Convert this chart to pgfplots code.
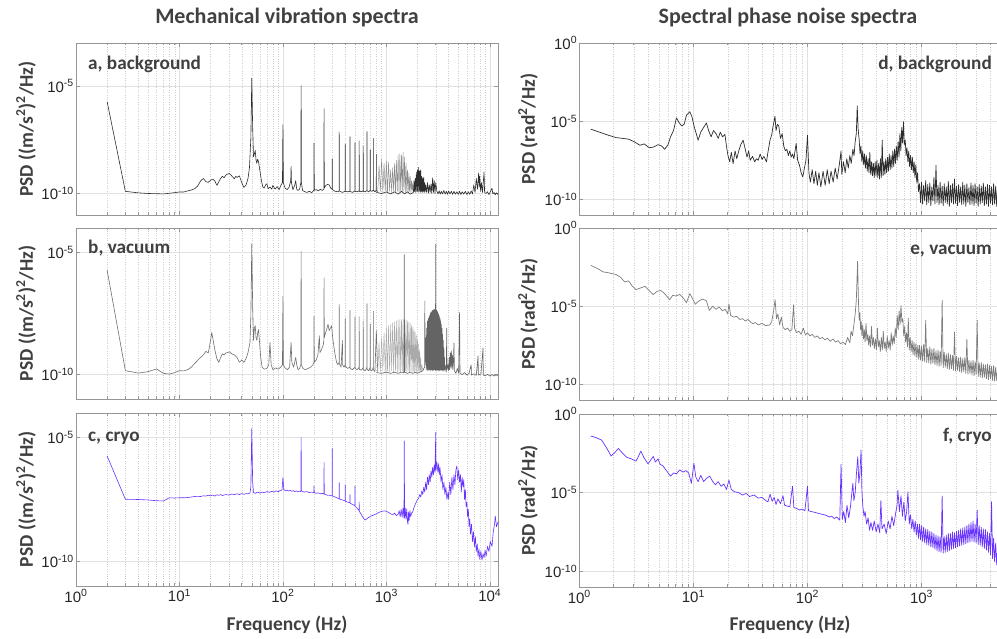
\documentclass[border=0pt]{standalone}
\usepackage{fontspec}
\usepackage{pgfplots}
\pgfplotsset{compat=1.18}
\setmainfont{Carlito}
\newfontfamily\arial{Liberation Sans}
\newcommand\tickfont{\arial\fontsize{15}{15}\selectfont}
\newcommand\labfont{\bfseries\fontsize{19.5}{19.5}\selectfont}
\newcommand\panfont{\bfseries\fontsize{19.2}{19.2}\selectfont}
\newcommand\titlefont{\bfseries\fontsize{22}{22}\selectfont}
\definecolor{axcol}{RGB}{150,150,150}
\definecolor{gridmaj}{RGB}{225,225,225}
\definecolor{gridmin}{RGB}{205,205,205}
\definecolor{labcol}{RGB}{64,64,64}
\definecolor{tickcol}{RGB}{38,38,38}
\definecolor{colA}{RGB}{45,45,45}
\definecolor{colAl}{RGB}{140,140,140}
\definecolor{colB}{RGB}{110,110,110}
\definecolor{colBl}{RGB}{170,170,170}
\definecolor{colBd}{RGB}{100,100,100}
\definecolor{colC}{RGB}{102,51,255}
\definecolor{colD}{RGB}{45,45,45}
\definecolor{colE}{RGB}{125,125,125}
\pgfplotsset{
 /pgfplots/mybase/.style={scale only axis, width=422pt, ymin=-11,
   axis line style={draw=axcol, line width=0.7pt},
   tick style={draw=axcol, line width=0.5pt},
   tick align=inside, major tick length=4pt, minor tick length=2.5pt,
   xmajorgrids, xminorgrids, ymajorgrids,
   major grid style={draw=gridmaj, line width=0.5pt},
   minor grid style={draw=gridmin, line width=0.4pt, dotted},
   xtick={1,10,100,1000,10000},
   yticklabel style={font=\tickfont, text=tickcol, inner xsep=2pt},
   xticklabel style={font=\tickfont, text=tickcol},
   no markers, clip=true,
   every axis plot/.append style={line width=0.6pt, line join=round},
 },
 /pgfplots/myleft/.style={mybase, xmin=1, xmax=12000,
   minor xtick={2,3,4,5,6,7,8,9,20,30,40,50,60,70,80,90,200,300,400,500,600,700,800,900,2000,3000,4000,5000,6000,7000,8000,9000},
   ytick={-10,-5}, yticklabels={10\textsuperscript{-10},10\textsuperscript{-5}}},
 /pgfplots/myright/.style={mybase, xmin=1, xmax=5000, ymax=0,
   minor xtick={2,3,4,5,6,7,8,9,20,30,40,50,60,70,80,90,200,300,400,500,600,700,800,900,2000,3000,4000},
   ytick={-10,-5,0}, yticklabels={10\textsuperscript{-10},10\textsuperscript{-5},10\textsuperscript{0}},
   every axis plot/.append style={line width=0.7pt}},
}
\begin{document}
\begin{tikzpicture}
\path[use as bounding box] (0,0) rectangle (997pt,639pt);
% ---------------- panel a ----------------
\begin{axis}[xmode=log, myleft, xticklabels={}, at={(76pt,424pt)}, anchor=south west, height=172pt, ymax=-3]
\addplot[colA] coordinates {(2,-5.73)(3,-9.9)(4,-9.97)(5,-10.0)(6,-10.01)(7,-10.02)(8,-9.99)(9,-9.96)(10,-9.93)(11,-9.93)(12,-9.88)(13,-9.84)(14,-9.78)(15,-9.65)(16,-9.42)(17,-9.3)(18,-9.45)(19,-9.48)(20,-9.38)(21,-9.33)(22,-9.42)(23,-9.62)(24,-9.45)(25,-9.3)(26,-9.2)(27,-9.27)(28,-9.15)(29,-9.1)(30.5,-9.07)(32,-9.18)(34,-9.32)(35,-9.2)(36,-9.25)(38,-9.18)(40,-9.5)(42,-9.72)(44,-9.6)(46,-9.3)(47.5,-8.8)(49,-7.4)(50,-4.64)(51,-6.9)(52,-8.3)(53,-8.15)(54,-8.0)(55,-8.45)(56,-8.6)(57,-8.4)(58,-8.5)(60,-8.95)(62,-9.4)(64,-9.7)(66,-9.75)(68,-9.6)(70,-9.55)(72,-9.78)(75,-9.7)(78,-9.8)(80,-9.62)(84,-9.8)(88,-9.68)(92,-9.82)(96,-9.6)(99,-9.5)(100,-6.8)(101,-9.5)(105,-9.75)(110,-9.82)(115,-9.7)(119,-9.4)(120,-8.74)(121,-9.5)(125,-9.82)(130,-9.62)(133,-9.4)(136,-9.8)(140,-9.86)(145,-9.8)(149,-9.5)(150,-4.99)(151,-9.5)(155,-9.86)(160,-9.9)(170,-9.95)(180,-9.9)(190,-9.96)(199,-9.85)(200,-7.65)(201,-9.85)(210,-9.82)(220,-9.88)(230,-9.8)(240,-9.86)(249,-9.8)(250,-6.06)(251,-9.75)(260,-9.62)(270,-9.58)(280,-9.6)(290,-9.75)(299,-9.8)(300,-8.39)(301,-9.82)(320,-9.9)(340,-9.92)(349,-9.88)(350,-7.14)(351,-9.88)(375,-9.95)(399,-9.9)(400,-7.7)(401,-9.9)(422,-9.92)(444,-9.9)(445,-7.36)(446,-9.9)(470,-9.95)(497,-9.88)(498,-7.63)(499,-9.9)(522,-9.92)(545,-9.88)(546,-7.55)(547,-9.9)(572,-9.92)(596,-9.88)(597,-7.78)(598,-9.9)(624,-9.92)(649,-9.86)(650,-7.12)(651,-9.88)(675,-9.92)(697,-9.85)(698,-7.96)(699,-9.86)(724,-9.9)(748,-9.85)(749,-7.44)(750,-9.85)(775,-9.92)(799,-9.85)(800,-8.18)(801,-9.86)(825,-9.92)};
\addplot[colAl, line width=0.45pt] coordinates {(825,-9.92)(850,-8.7)(875,-9.9)(900,-8.4)(925,-9.95)(950,-8.6)(975,-9.9)(1000,-8.5)(1025,-9.95)(1050,-8.55)(1075,-9.9)(1100,-8.9)(1125,-9.95)(1150,-8.8)(1175,-9.9)(1200,-8.6)(1225,-9.95)(1250,-8.45)(1275,-9.9)(1300,-8.2)(1325,-9.95)(1350,-8.15)(1375,-9.9)(1400,-8.2)(1425,-9.95)(1450,-8.07)(1475,-9.9)(1500,-8.3)(1525,-9.95)(1550,-8.6)(1575,-9.9)(1600,-8.9)(1625,-9.95)(1650,-9.05)(1675,-9.9)(1700,-9.2)(1725,-9.95)(1750,-9.4)(1775,-9.9)(1800,-9.5)(1825,-9.95)};
\addplot[colA] coordinates {(800,-9.95)(900,-10.0)(1000,-9.93)(1100,-10.02)(1200,-9.92)(1300,-10.03)(1400,-9.9)(1500,-10.02)(1600,-9.92)(1700,-10.03)(1825,-9.95)(1850,-9.4)(1875,-9.92)(1900,-9.3)(1925,-9.95)(1950,-9.0)(1975,-9.9)(2000,-8.9)(2025,-9.95)(2050,-8.78)(2075,-9.9)(2100,-8.95)(2125,-9.95)(2150,-8.9)(2175,-9.9)(2200,-9.2)(2225,-9.95)(2250,-9.3)(2275,-9.9)(2300,-9.25)(2325,-9.95)(2350,-9.5)(2375,-9.9)(2400,-9.6)(2450,-9.95)(2500,-9.5)(2550,-9.98)(2600,-9.6)(2650,-9.95)(2700,-9.55)(2750,-10.0)(2800,-9.27)(2850,-9.95)(2900,-9.4)(2950,-10.0)(3000,-9.5)(3080,-9.9)(3160,-10.02)(3240,-9.88)(3320,-10.03)(3400,-9.9)(3500,-10.02)(3600,-9.86)(3700,-10.03)(3800,-9.9)(3900,-10.04)(4000,-9.88)(4120,-10.02)(4250,-9.9)(4380,-10.04)(4500,-9.9)(4650,-10.03)(4800,-9.92)(4950,-10.04)(5100,-9.9)(5250,-10.05)(5400,-9.92)(5600,-10.03)(5800,-9.9)(6000,-10.05)(6200,-9.92)(6400,-10.04)(6600,-9.88)(6800,-10.02)(7000,-9.6)(7200,-9.95)(7400,-9.3)(7600,-9.8)(7800,-9.04)(7900,-9.7)(8000,-9.2)(8150,-9.9)(8300,-9.5)(8500,-9.95)(8800,-9.0)(8900,-9.95)(9200,-10.0)(9500,-9.92)(9800,-10.05)(10100,-9.93)(10500,-9.75)(10700,-10.02)(11000,-9.95)(11300,-10.06)(11600,-9.97)(12000,-10.05)};
\end{axis}
% ---------------- panel b ----------------
\begin{axis}[xmode=log, myleft, xticklabels={}, at={(76pt,240pt)}, anchor=south west, height=171pt, ymax=-4]
\addplot[colB] coordinates {(2,-5.73)(3,-9.84)(4,-9.94)(5,-9.88)(6,-9.77)(7,-9.95)(8,-9.98)(9,-9.92)(10,-9.84)(11,-9.85)(12,-9.8)(13,-9.7)(14,-9.55)(15,-9.42)(16,-9.3)(17,-9.2)(18,-9.05)(19,-9.12)(20,-8.6)(20.5,-8.28)(21,-8.5)(22,-9.0)(23,-9.35)(24,-9.5)(25,-9.3)(26,-9.15)(27,-9.2)(28,-9.12)(29,-9.1)(30.5,-9.07)(32,-9.15)(34,-9.2)(36,-9.3)(38,-9.5)(40,-9.4)(42,-9.5)(44,-9.35)(46,-9.1)(48,-8.7)(49,-7.6)(50,-4.65)(51,-7.2)(52,-8.6)(53,-8.1)(54,-8.0)(55,-8.5)(56,-8.6)(57,-8.3)(58,-8.16)(59,-8.5)(61,-9.3)(63,-9.7)(66,-9.78)(70,-9.75)(73,-9.6)(75,-8.68)(77,-9.6)(80,-9.8)(85,-9.73)(90,-9.78)(95,-9.7)(99,-9.6)(100,-6.79)(101,-9.6)(105,-9.73)(110,-9.8)(116,-9.7)(120,-8.68)(122,-9.5)(127,-9.7)(133,-9.3)(136,-9.6)(140,-9.8)(145,-9.75)(149,-9.6)(150,-4.96)(151,-9.6)(156,-9.75)(165,-9.8)(175,-9.75)(185,-9.7)(195,-9.6)(199,-9.5)(200,-7.61)(201,-9.5)(210,-9.4)(218,-9.2)(225,-8.41)(228,-9.1)(235,-9.0)(245,-8.8)(249,-8.6)(250,-6.04)(251,-8.5)(258,-8.3)(265,-8.15)(273,-7.94)(280,-8.2)(288,-8.1)(295,-8.0)(300,-8.3)(305,-8.6)(312,-8.9)(320,-9.2)(330,-9.5)(340,-9.6)(349,-9.5)(350,-7.13)(351,-9.55)(365,-9.7)(376,-8.6)(378,-9.6)(390,-9.7)(399,-9.6)(400,-7.71)(401,-9.65)(420,-9.75)(444,-9.7)(445,-7.37)(446,-9.75)(470,-9.8)(497,-9.7)(498,-7.64)(499,-9.75)(522,-9.8)(545,-9.7)(546,-7.63)(547,-9.78)(572,-9.82)(596,-9.72)(597,-7.8)(598,-9.78)(624,-9.85)(649,-9.7)(650,-7.1)(651,-9.78)(675,-9.85)(697,-9.7)(698,-7.94)(699,-9.8)(724,-9.85)(748,-9.7)(749,-7.4)(750,-9.8)(775,-9.88)(800,-8.2)(825,-9.9)};
\addplot[colBl, line width=0.45pt] coordinates {(825,-9.9)(850,-8.7)(875,-9.9)(900,-8.5)(925,-9.85)(950,-8.3)(975,-9.9)(1000,-8.1)(1025,-9.85)(1050,-8.0)(1075,-9.9)(1100,-7.95)(1125,-9.85)(1150,-7.88)(1175,-9.9)(1200,-7.83)(1225,-9.85)(1250,-7.8)(1275,-9.9)(1300,-7.77)(1325,-9.85)(1350,-7.75)(1375,-9.9)(1400,-7.74)(1425,-9.85)(1450,-7.74)(1475,-9.9)(1500,-7.75)(1525,-9.85)(1550,-7.76)(1575,-9.9)(1600,-7.8)(1625,-9.85)(1650,-7.85)(1675,-9.9)(1700,-7.9)(1725,-9.85)(1750,-7.97)(1775,-9.9)(1800,-8.05)(1825,-9.85)(1850,-8.15)(1875,-9.9)(1900,-8.27)(1925,-9.85)(1950,-8.4)(1975,-9.9)(2000,-8.55)(2025,-9.85)(2050,-8.75)(2075,-9.9)(2100,-9.0)(2125,-9.85)(2150,-9.3)(2175,-9.9)(2200,-9.6)(2250,-9.85)};
\addplot[colBd] coordinates {(800,-9.92)(900,-9.95)(1000,-9.9)(1100,-9.95)(1200,-9.9)(1300,-9.95)(1400,-9.9)(1480,-9.92)(1490,-5.09)(1500,-9.9)(1600,-9.95)(1700,-9.9)(1800,-9.95)(1900,-9.9)(2000,-9.95)(2100,-9.9)(2250,-9.85)(2300,-9.75)(2340,-9.7)(2355,-6.99)(2370,-9.6)(2400,-8.5)(2425,-9.8)(2450,-8.1)(2475,-9.85)(2500,-7.8)(2525,-9.8)(2550,-7.7)(2575,-9.85)(2600,-7.6)(2625,-9.8)(2650,-7.5)(2675,-9.85)(2700,-7.45)(2725,-9.8)(2750,-7.4)(2775,-9.85)(2800,-7.37)(2825,-9.8)(2850,-7.35)(2875,-9.85)(2900,-7.34)(2925,-9.8)(2950,-7.33)(2975,-9.85)(3000,-4.66)(3025,-9.8)(3050,-7.35)(3075,-9.85)(3100,-7.4)(3125,-9.8)(3150,-7.45)(3175,-9.85)(3200,-7.52)(3225,-9.8)(3250,-7.6)(3275,-9.85)(3300,-7.7)(3325,-9.8)(3350,-7.8)(3375,-9.85)(3400,-7.95)(3425,-9.8)(3450,-8.1)(3475,-9.85)(3500,-8.35)(3525,-9.8)(3550,-8.6)(3575,-9.85)(3600,-8.9)(3625,-9.8)(3650,-9.3)(3675,-9.85)(3700,-9.6)(3750,-9.75)(3800,-9.9)(3830,-8.1)(3860,-9.8)(3950,-9.6)(4000,-9.85)(4050,-9.3)(4100,-9.8)(4150,-9.1)(4200,-9.7)(4250,-9.03)(4300,-9.75)(4350,-9.2)(4400,-9.8)(4450,-9.5)(4500,-8.7)(4550,-9.85)(4700,-9.95)(4850,-9.75)(5000,-9.95)(5100,-7.46)(5150,-9.95)(5400,-10.0)(5700,-9.92)(6000,-10.02)(6300,-9.95)(6600,-9.6)(6650,-10.02)(7000,-9.97)(7400,-10.03)(7700,-9.23)(7750,-10.02)(8200,-9.98)(8600,-8.91)(8650,-10.02)(9000,-10.05)(9500,-9.99)(10000,-10.06)(10500,-10.0)(11000,-10.06)(11500,-10.01)(12000,-10.06)};
\end{axis}
% ---------------- panel c ----------------
\begin{axis}[xmode=log, myleft, xticklabels={10\textsuperscript{0},10\textsuperscript{1},10\textsuperscript{2},10\textsuperscript{3},10\textsuperscript{4}}, at={(76pt,53pt)}, anchor=south west, height=173pt, ymax=-4]
\addplot[colC] coordinates {(2,-5.74)(3,-7.49)(4,-7.5)(5,-7.52)(6,-7.55)(7,-7.56)(8,-7.43)(9,-7.44)(10,-7.43)(11,-7.43)(12,-7.42)(13,-7.4)(14,-7.38)(15,-7.37)(16,-7.38)(17,-7.35)(18,-7.36)(19,-7.33)(20,-7.35)(21,-7.32)(22,-7.36)(23,-7.31)(24,-7.33)(25,-7.3)(26,-7.34)(28,-7.3)(30,-7.32)(32,-7.28)(34,-7.3)(36,-7.27)(38,-7.3)(40,-7.26)(42,-7.29)(44,-7.26)(46,-7.27)(48,-7.24)(49,-7.0)(50,-4.63)(51,-6.8)(52,-7.22)(54,-7.25)(57,-7.2)(60,-7.24)(63,-7.2)(66,-7.23)(70,-7.18)(74,-7.21)(78,-7.17)(82,-7.2)(86,-7.15)(90,-7.18)(94,-7.14)(98,-7.12)(100,-6.61)(102,-7.1)(106,-7.15)(110,-7.12)(114,-7.16)(118,-7.13)(122,-7.17)(126,-7.14)(130,-7.18)(135,-7.15)(140,-7.19)(145,-7.16)(149,-7.18)(150,-4.99)(151,-7.15)(160,-7.2)(170,-7.18)(180,-7.22)(190,-7.2)(199,-7.22)(200,-6.95)(201,-7.22)(210,-7.25)(220,-7.23)(230,-7.27)(240,-7.25)(249,-7.28)(250,-6.0)(251,-7.28)(260,-7.3)(270,-7.33)(280,-7.32)(290,-7.35)(299,-7.34)(300,-5.43)(301,-7.36)(320,-7.4)(340,-7.45)(349,-7.47)(350,-6.81)(351,-7.48)(375,-7.52)(399,-7.55)(400,-6.9)(401,-7.57)(420,-7.6)(444,-7.63)(445,-7.3)(446,-7.65)(470,-7.7)(497,-7.75)(498,-6.95)(499,-7.78)(520,-7.85)(545,-7.95)(546,-7.6)(547,-7.97)(570,-8.1)(600,-8.25)(620,-8.33)(640,-8.3)(660,-8.25)(680,-8.22)(700,-8.18)(730,-8.15)(760,-8.12)(800,-8.08)(850,-8.02)(900,-7.98)(970,-7.96)(1000,-7.98)(1050,-8.02)(1100,-8.08)(1150,-8.12)(1200,-8.05)(1250,-8.15)(1300,-8.1)(1330,-7.95)(1360,-8.2)(1390,-7.9)(1420,-8.22)(1450,-7.85)(1480,-8.25)(1490,-5.13)(1500,-8.25)(1520,-7.85)(1550,-8.3)(1575,-7.88)(1600,-8.4)(1620,-8.5)(1640,-8.0)(1660,-8.35)(1690,-7.95)(1720,-8.2)(1750,-8.05)(1800,-8.0)(1840,-7.85)(1900,-7.7)(1950,-7.6)(2000,-7.5)(2050,-7.45)(2100,-7.3)(2150,-7.4)(2200,-7.15)(2250,-7.3)(2300,-7.0)(2350,-7.2)(2400,-6.8)(2450,-7.1)(2500,-6.6)(2550,-6.9)(2600,-6.5)(2650,-6.8)(2700,-6.34)(2750,-6.6)(2800,-6.2)(2850,-6.5)(2900,-6.1)(2950,-6.4)(3000,-4.79)(3020,-6.3)(3080,-6.0)(3150,-6.4)(3200,-6.05)(3250,-6.5)(3300,-6.2)(3380,-6.8)(3450,-6.5)(3520,-7.1)(3600,-6.8)(3680,-7.3)(3760,-7.0)(3850,-7.5)(3950,-7.2)(4000,-7.5)(4100,-6.8)(4200,-7.3)(4300,-6.6)(4400,-7.1)(4500,-6.5)(4600,-6.9)(4700,-6.3)(4800,-6.14)(4900,-6.7)(5000,-6.3)(5100,-6.8)(5200,-6.5)(5300,-7.2)(5400,-6.6)(5500,-7.0)(5600,-6.7)(5700,-7.5)(5800,-7.1)(5900,-7.8)(6000,-7.6)(6100,-8.2)(6200,-7.9)(6300,-8.6)(6400,-8.3)(6500,-8.9)(6650,-8.5)(6800,-9.2)(6950,-8.8)(7100,-9.4)(7250,-9.0)(7400,-9.6)(7550,-9.3)(7700,-9.8)(7850,-9.5)(8000,-9.92)(8200,-9.6)(8400,-9.95)(8600,-9.7)(8800,-9.85)(9000,-9.55)(9200,-9.8)(9500,-9.4)(9800,-9.6)(10100,-9.2)(10500,-9.4)(10800,-8.8)(11100,-8.5)(11300,-8.17)(11600,-8.6)(12000,-8.4)};
\end{axis}
% ---------------- panel d ----------------
\begin{axis}[xmode=log, myright, xticklabels={}, at={(579.3pt,424pt)}, anchor=south west, height=172pt]
\addplot[colD] coordinates {(1.26,-5.51)(1.5,-5.7)(1.8,-5.9)(2.1,-6.05)(2.4,-6.1)(2.7,-6.15)(3.0,-6.3)(3.4,-6.54)(3.7,-6.45)(4.1,-6.7)(4.5,-6.65)(4.9,-6.5)(5.3,-6.6)(5.6,-6.8)(6.0,-6.5)(6.3,-6.0)(6.7,-5.6)(7.1,-4.79)(7.5,-5.1)(7.9,-5.3)(8.3,-5.2)(8.7,-4.62)(9.0,-4.5)(9.3,-4.4)(9.7,-4.7)(10.2,-5.4)(10.6,-5.8)(11.0,-6.22)(11.6,-5.7)(12.3,-5.4)(13.0,-5.11)(13.6,-5.6)(14.3,-6.0)(15.0,-5.6)(15.8,-5.8)(16.5,-6.1)(17.2,-5.7)(18.0,-6.0)(18.9,-5.85)(19.5,-6.6)(20.1,-7.2)(20.8,-7.6)(21.5,-7.0)(22.3,-7.71)(23.2,-6.9)(24.0,-7.4)(25.0,-6.9)(26.0,-6.5)(27.3,-6.22)(28.5,-6.8)(29.5,-7.3)(30.5,-6.9)(31.5,-7.5)(33,-7.25)(34.5,-7.6)(35.6,-7.4)(37,-7.5)(38.5,-7.1)(40,-7.45)(41.5,-7.25)(43.7,-7.6)(45,-7.0)(47,-6.2)(48.5,-5.9)(50,-5.3)(51.9,-4.68)(53,-5.6)(54.5,-5.2)(56,-5.3)(58,-6.1)(60,-5.8)(62,-6.6)(64,-6.9)(66,-6.8)(68,-7.2)(70,-6.9)(72,-7.3)(74,-7.1)(76,-7.4)(79.6,-6.43)(82,-7.5)(85,-7.8)(88,-8.3)(91,-8.57)(94,-8.0)(97,-7.5)(100,-5.9)(103,-8.3)(106,-8.9)(110,-8.1)(114,-9.0)(118,-8.2)(122,-9.1)(126,-8.3)(131,-9.2)(137,-8.2)(143,-9.1)(149,-8.1)(155,-9.0)(161,-8.2)(168,-8.9)(175,-8.0)(182,-8.7)(190,-7.8)(197,-6.9)(200,-8.4)(207,-7.6)(214,-8.3)(221,-7.4)(228,-8.0)(235,-7.2)(242,-7.7)(250,-6.8)(256,-7.2)(262,-6.3)(268,-5.79)(273,-4.02)(278,-5.5)(284,-6.2)(289,-7.1)(294,-6.6)(300,-7.6)(305,-6.9)(311,-7.8)(316,-7.1)(322,-8.0)(328,-7.2)(334,-8.2)(340,-7.4)(346,-8.3)(352,-7.0)(358,-8.4)(365,-7.6)(371,-8.5)(378,-7.7)(385,-8.6)(392,-7.6)(399,-8.5)(406,-7.5)(413,-8.6)(421,-7.7)(428,-8.7)(436,-7.4)(444,-8.6)(452,-6.2)(460,-8.5)(468,-7.6)(477,-8.4)(485,-7.4)(494,-8.3)(503,-7.3)(512,-8.2)(521,-7.1)(531,-8.1)(540,-7.2)(550,-8.0)(560,-6.9)(570,-7.9)(580,-6.8)(591,-7.7)(601,-6.6)(612,-7.5)(623,-6.3)(635,-7.3)(646,-5.8)(658,-6.9)(670,-5.4)(682,-6.4)(694,-5.04)(706,-6.5)(719,-6.2)(732,-7.2)(745,-6.7)(759,-7.6)(772,-6.9)(786,-7.9)(800,-7.2)(815,-8.1)(830,-7.3)(845,-8.3)(860,-7.6)(875,-8.6)(891,-7.8)(907,-8.9)(923,-8.3)(940,-9.5)(960,-9.0)(980,-10.2)(1000,-8.9)(1021,-10.3)(1043,-9.1)(1065,-10.1)(1087,-8.8)(1110,-10.35)(1133,-9.05)(1157,-10.2)(1181,-8.95)(1206,-10.4)(1231,-9.2)(1257,-10.1)(1283,-8.6)(1310,-10.3)(1338,-7.82)(1366,-10.2)(1395,-9.1)(1424,-10.35)(1454,-8.9)(1484,-10.25)(1515,-9.15)(1547,-10.4)(1580,-9.0)(1613,-10.2)(1647,-9.2)(1681,-10.3)(1716,-8.85)(1752,-10.45)(1789,-9.1)(1827,-10.2)(1865,-9.0)(1904,-10.3)(1944,-8.7)(1985,-10.25)(2027,-9.15)(2069,-10.4)(2113,-9.05)(2157,-10.2)(2202,-9.2)(2249,-10.35)(2296,-8.9)(2344,-10.3)(2393,-9.1)(2443,-10.45)(2495,-9.0)(2547,-10.2)(2601,-9.25)(2655,-10.35)(2711,-8.95)(2768,-10.3)(2826,-9.1)(2885,-10.4)(2946,-9.0)(3008,-10.25)(3071,-9.2)(3135,-10.45)(3201,-9.05)(3268,-10.3)(3337,-9.15)(3407,-10.2)(3478,-8.95)(3551,-10.4)(3626,-9.2)(3702,-10.3)(3780,-9.05)(3859,-10.45)(3940,-9.1)(4023,-10.25)(4107,-9.2)(4193,-10.35)(4281,-9.0)(4371,-10.3)(4463,-9.15)(4557,-10.45)(4652,-9.05)(4750,-10.3)(4850,-9.2)(4952,-10.35)(5000,-9.3)};
\end{axis}
% ---------------- panel e ----------------
\begin{axis}[xmode=log, myright, xticklabels={}, at={(579.3pt,239pt)}, anchor=south west, height=172pt]
\addplot[colE] coordinates {(1.26,-2.39)(1.45,-2.6)(1.62,-2.81)(1.85,-2.88)(2.1,-2.98)(2.3,-3.15)(2.5,-3.45)(2.7,-3.38)(2.9,-3.7)(3.14,-3.94)(3.4,-3.85)(3.77,-3.73)(4.1,-4.0)(4.45,-4.26)(4.8,-4.05)(5.2,-4.0)(5.6,-4.2)(6.2,-4.58)(6.6,-4.3)(7.0,-4.35)(7.6,-4.25)(8.2,-4.5)(8.7,-4.78)(9.3,-4.2)(9.8,-4.5)(10.4,-4.88)(11.0,-4.7)(12.0,-4.55)(13.0,-4.65)(13.8,-5.27)(14.8,-5.0)(15.8,-5.2)(16.8,-5.05)(18.0,-5.3)(19.0,-5.2)(20.0,-5.5)(20.5,-4.85)(21.2,-5.59)(22.5,-5.7)(24,-5.65)(25.5,-5.85)(27,-5.8)(28.5,-5.95)(30,-5.85)(33,-6.12)(35,-6.05)(37,-6.2)(40,-6.1)(43,-6.25)(46.8,-6.2)(48.5,-6.0)(50,-5.5)(52,-4.58)(53.5,-5.8)(55,-5.5)(57,-6.2)(59,-5.7)(61,-6.35)(64,-6.5)(67,-6.4)(70,-6.6)(73,-6.5)(75.6,-4.9)(77,-6.4)(80,-6.7)(84,-6.6)(88,-6.8)(92,-6.4)(96,-6.85)(100,-6.7)(105,-6.9)(110,-6.8)(116,-7.0)(122,-6.9)(128,-7.08)(135,-7.0)(142,-7.15)(150,-7.05)(158,-7.25)(168,-7.1)(176,-7.3)(185,-7.2)(195,-7.4)(205,-7.3)(215,-7.45)(225,-7.0)(235,-7.35)(241,-6.6)(248,-6.9)(255,-6.2)(262,-5.5)(268,-4.6)(275,-2.13)(280,-4.8)(284,-5.9)(288,-5.4)(292,-6.5)(296,-6.0)(300,-6.9)(305,-6.2)(310,-7.1)(315,-6.5)(320,-7.3)(326,-6.1)(332,-7.2)(338,-6.8)(344,-7.5)(350,-6.9)(357,-7.6)(364,-6.3)(371,-7.5)(378,-7.0)(386,-7.7)(394,-7.1)(402,-7.8)(410,-6.4)(418,-7.6)(426,-7.2)(435,-7.9)(444,-7.0)(453,-7.8)(462,-6.6)(471,-7.7)(480,-7.3)(490,-7.9)(500,-6.9)(510,-7.7)(520,-7.2)(531,-7.8)(542,-6.7)(553,-7.5)(564,-6.9)(576,-7.4)(588,-6.4)(600,-7.0)(612,-5.6)(624,-6.5)(636,-5.3)(648,-6.2)(660,-4.95)(672,-6.0)(685,-5.8)(698,-6.9)(711,-6.3)(725,-7.3)(739,-6.7)(753,-7.6)(765,-5.76)(780,-7.8)(795,-7.0)(810,-7.9)(826,-7.2)(842,-8.1)(858,-7.3)(875,-8.2)(892,-7.4)(910,-8.3)(928,-7.5)(946,-8.4)(960,-7.5)(980,-8.45)(1000,-7.55)(1021,-8.5)(1043,-7.45)(1065,-8.55)(1087,-5.9)(1110,-8.6)(1133,-7.7)(1157,-8.62)(1181,-7.6)(1206,-8.7)(1231,-7.75)(1257,-8.65)(1283,-7.7)(1310,-8.75)(1338,-7.85)(1366,-8.8)(1395,-7.8)(1424,-8.85)(1454,-7.9)(1484,-8.8)(1515,-4.63)(1547,-8.95)(1580,-7.95)(1613,-8.9)(1647,-8.05)(1681,-9.0)(1716,-8.0)(1752,-9.05)(1789,-8.1)(1827,-9.0)(1865,-8.15)(1904,-9.1)(1944,-6.65)(1985,-9.15)(2027,-8.2)(2069,-9.1)(2113,-8.3)(2157,-9.2)(2202,-8.25)(2249,-9.25)(2296,-8.35)(2344,-9.2)(2393,-8.3)(2443,-9.3)(2495,-7.1)(2547,-9.35)(2601,-8.45)(2655,-9.3)(2711,-8.5)(2768,-9.4)(2826,-8.45)(2885,-9.45)(2946,-8.55)(3008,-9.4)(3071,-5.9)(3135,-9.5)(3201,-8.65)(3268,-9.55)(3337,-8.6)(3407,-9.6)(3478,-8.7)(3551,-9.55)(3626,-8.75)(3702,-9.65)(3780,-8.7)(3859,-9.7)(3940,-8.8)(4023,-9.65)(4107,-8.85)(4193,-9.75)(4281,-8.8)(4371,-9.8)(4463,-8.9)(4557,-9.75)(4652,-8.95)(4750,-9.85)(4850,-8.9)(4952,-9.8)(5000,-9.0)};
\end{axis}
% ---------------- panel f ----------------
\begin{axis}[xmode=log, myright, xticklabels={10\textsuperscript{0},10\textsuperscript{1},10\textsuperscript{2},10\textsuperscript{3},10\textsuperscript{4}}, at={(579.3pt,52pt)}, anchor=south west, height=173pt]
\addplot[colC] coordinates {(1.26,-1.4)(1.4,-1.5)(1.57,-1.66)(1.75,-2.2)(1.9,-2.67)(2.05,-2.45)(2.2,-2.19)(2.4,-2.5)(2.6,-2.75)(2.85,-2.85)(3.14,-3.0)(3.3,-2.7)(3.46,-2.36)(3.7,-2.8)(4.0,-3.17)(4.25,-2.9)(4.45,-2.7)(4.65,-3.05)(4.9,-2.85)(5.1,-3.2)(5.4,-3.29)(5.8,-3.6)(6.3,-3.95)(6.7,-3.75)(7.1,-3.8)(7.6,-3.55)(8.1,-3.7)(8.6,-3.6)(9.1,-3.75)(9.6,-4.41)(10.1,-3.14)(10.5,-4.0)(11,-4.3)(11.6,-3.9)(12.3,-4.3)(13.0,-4.1)(13.9,-3.95)(14.8,-4.3)(15.6,-4.5)(16.5,-4.3)(17.5,-4.6)(18.5,-4.45)(19.5,-4.8)(20.5,-4.2)(21.5,-4.8)(23,-4.95)(25,-5.0)(27,-5.16)(29,-5.05)(31,-5.25)(34,-5.15)(37,-5.35)(40,-5.3)(43,-5.5)(45,-5.59)(47,-5.1)(49,-5.55)(51,-5.3)(53,-5.75)(55,-5.4)(58,-5.7)(61,-5.2)(63,-5.8)(66,-5.85)(70,-5.9)(74,-4.59)(76,-5.95)(80,-6.0)(85,-6.1)(90,-6.05)(95,-6.15)(100,-4.6)(102,-6.15)(108,-6.2)(115,-6.25)(122,-6.3)(130,-6.35)(138,-6.4)(147,-6.45)(155,-6.55)(163,-6.5)(172,-6.65)(180,-6.55)(192,-6.75)(197,-3.2)(202,-6.7)(208,-6.2)(215,-6.9)(222,-5.8)(230,-6.6)(238,-5.9)(245,-5.0)(250,-4.41)(255,-5.5)(262,-5.0)(268,-3.9)(276,-2.72)(282,-4.4)(288,-3.8)(295,-2.29)(300,-4.9)(306,-5.9)(313,-6.5)(320,-6.2)(330,-7.0)(340,-6.6)(350,-7.39)(360,-6.9)(372,-7.4)(385,-6.8)(400,-7.5)(415,-7.0)(430,-7.55)(440,-5.5)(450,-7.3)(470,-7.0)(490,-7.6)(510,-6.8)(530,-7.3)(550,-6.5)(570,-7.1)(590,-6.4)(610,-5.8)(620,-4.84)(640,-6.2)(660,-5.2)(680,-6.5)(700,-5.6)(720,-6.8)(740,-6.2)(760,-4.95)(780,-7.0)(800,-6.4)(820,-7.3)(840,-6.7)(860,-7.5)(880,-6.8)(900,-7.7)(920,-7.0)(940,-7.9)(960,-7.0)(980,-8.0)(1000,-7.1)(1021,-8.1)(1043,-7.2)(1065,-8.2)(1087,-7.3)(1110,-8.3)(1133,-7.35)(1157,-8.35)(1181,-7.45)(1206,-8.45)(1231,-7.5)(1257,-8.5)(1283,-7.6)(1310,-8.6)(1338,-7.7)(1366,-8.7)(1395,-7.75)(1424,-8.75)(1454,-7.8)(1484,-8.8)(1515,-5.22)(1547,-8.85)(1580,-7.8)(1613,-8.8)(1647,-7.7)(1681,-8.75)(1716,-7.6)(1752,-8.7)(1789,-7.6)(1827,-8.6)(1865,-7.5)(1904,-8.55)(1944,-7.55)(1985,-8.5)(2027,-7.45)(2069,-8.45)(2113,-7.4)(2157,-8.4)(2202,-7.3)(2249,-8.35)(2296,-7.25)(2344,-8.3)(2393,-7.2)(2443,-8.25)(2495,-7.1)(2547,-8.2)(2601,-7.0)(2655,-8.15)(2711,-6.9)(2768,-8.1)(2826,-6.8)(2885,-8.15)(2946,-7.0)(3008,-8.2)(3071,-6.1)(3135,-8.3)(3201,-7.1)(3268,-8.35)(3337,-7.2)(3407,-8.45)(3478,-7.3)(3551,-8.55)(3626,-7.35)(3702,-8.65)(3780,-7.5)(3859,-8.8)(3940,-7.6)(4023,-8.95)(4107,-5.58)(4193,-9.2)(4281,-7.9)(4371,-9.4)(4463,-8.2)(4557,-9.6)(4652,-8.4)(4750,-9.7)(4850,-8.5)(4952,-9.75)(5000,-8.6)};
\end{axis}
% ---------------- text ----------------
\node[font=\titlefont, text=labcol] at (287pt,621pt) {Mechanical vibration spectra};
\node[font=\titlefont, text=labcol] at (788pt,621pt) {Spectral phase noise spectra};
\node[font=\labfont, text=labcol] at (287pt,14pt) {Frequency (Hz)};
\node[font=\labfont, text=labcol] at (790pt,14pt) {Frequency (Hz)};
\node[font=\labfont, text=labcol, rotate=90] at (26pt,510pt) {PSD ((m/s\textsuperscript{2})\textsuperscript{2}/Hz)};
\node[font=\labfont, text=labcol, rotate=90] at (26pt,325.5pt) {PSD ((m/s\textsuperscript{2})\textsuperscript{2}/Hz)};
\node[font=\labfont, text=labcol, rotate=90] at (26pt,139.5pt) {PSD ((m/s\textsuperscript{2})\textsuperscript{2}/Hz)};
\node[font=\labfont, text=labcol, rotate=90] at (528pt,510pt) {PSD (rad\textsuperscript{2}/Hz)};
\node[font=\labfont, text=labcol, rotate=90] at (528pt,325pt) {PSD (rad\textsuperscript{2}/Hz)};
\node[font=\labfont, text=labcol, rotate=90] at (528pt,138.5pt) {PSD (rad\textsuperscript{2}/Hz)};
\node[font=\panfont, text=labcol, anchor=base west, inner sep=0pt] at (88pt,569pt) {a, background};
\node[font=\panfont, text=labcol, anchor=base west, inner sep=0pt] at (88pt,385pt) {b, vacuum};
\node[font=\panfont, text=labcol, anchor=base west, inner sep=0pt] at (88pt,197pt) {c, cryo};
\node[font=\panfont, text=labcol, anchor=base east, inner sep=0pt] at (992pt,569pt) {d, background};
\node[font=\panfont, text=labcol, anchor=base east, inner sep=0pt] at (992pt,384pt) {e, vacuum};
\node[font=\panfont, text=labcol, anchor=base east, inner sep=0pt] at (992pt,197pt) {f, cryo};
\end{tikzpicture}
\end{document}
